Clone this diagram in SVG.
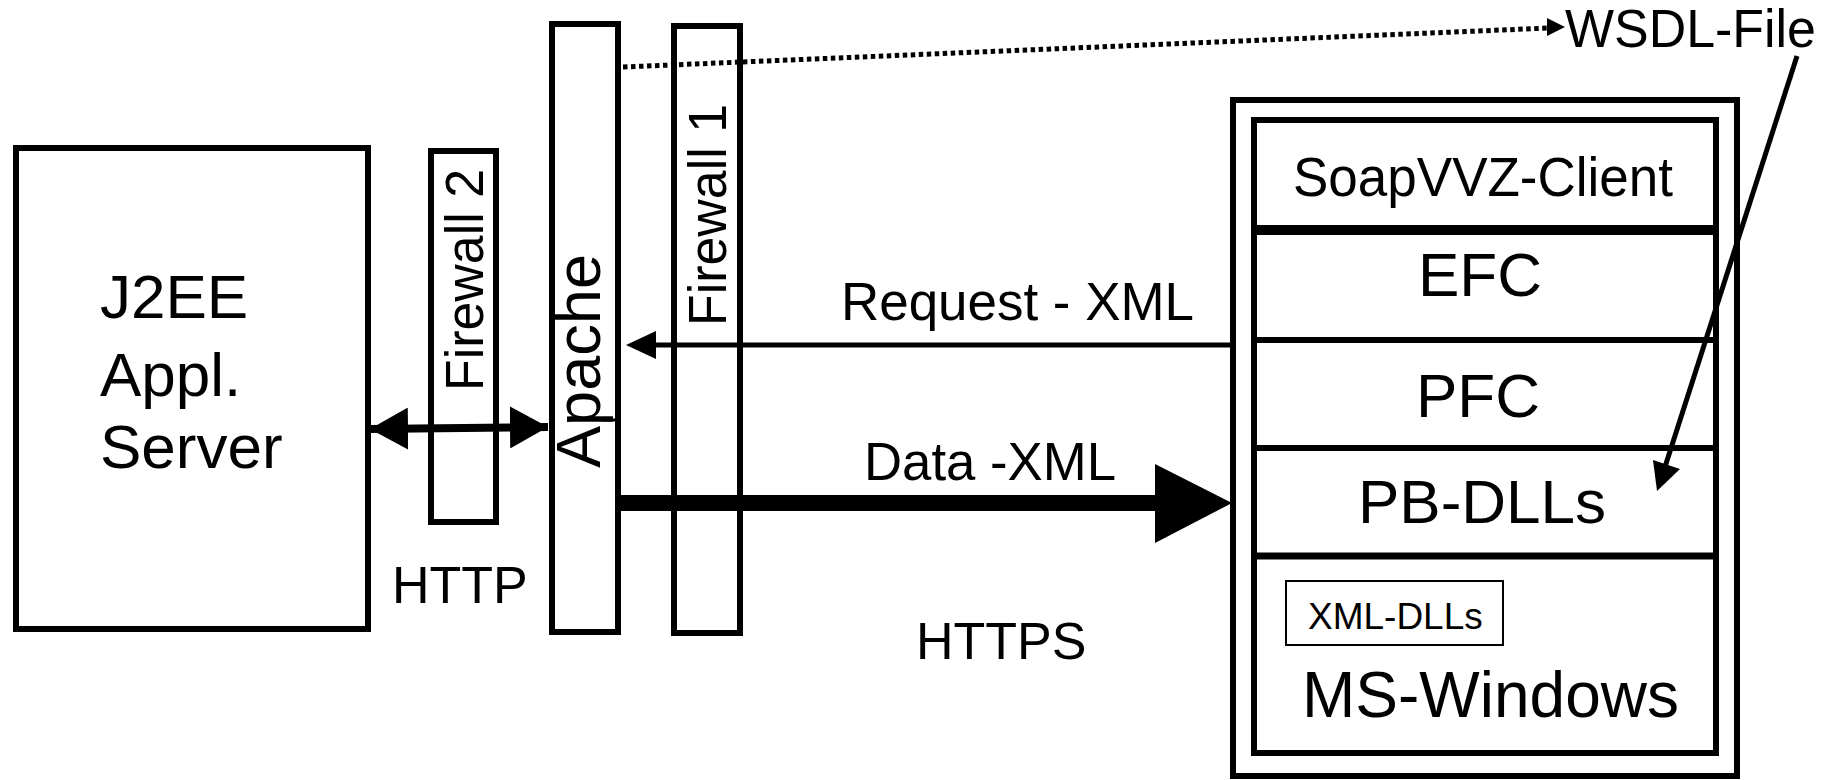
<svg xmlns="http://www.w3.org/2000/svg" width="1836" height="780" viewBox="0 0 1836 780">
<style>
text{font-family:"Liberation Sans",Arial,sans-serif;fill:#000}
.box{fill:none;stroke:#000;stroke-width:6}
.ln{stroke:#000;fill:none}
</style>
<defs>
<marker id="hd" markerUnits="userSpaceOnUse" markerWidth="40" markerHeight="42" viewBox="0 0 40 42" refX="38" refY="21" orient="auto"><path d="M0,0 L38,21 L0,42 Z" fill="#000"/></marker>
<marker id="hdS" markerUnits="userSpaceOnUse" markerWidth="40" markerHeight="42" viewBox="0 0 40 42" refX="38" refY="21" orient="auto-start-reverse"><path d="M0,0 L38,21 L0,42 Z" fill="#000"/></marker>
</defs>
<rect width="1836" height="780" fill="#fff"/>
<g id="j2ee">
<rect class="box" x="16" y="148" width="352" height="481"/>
<text x="100" y="318" font-size="62">J2EE</text>
<text x="100" y="396" font-size="62">Appl.</text>
<text x="100" y="468" font-size="62">Server</text>
</g>
<g id="firewall2">
<rect class="box" x="431" y="151" width="65" height="371"/>
<text transform="translate(483,391) rotate(-90)" font-size="54" textLength="222" lengthAdjust="spacingAndGlyphs">Firewall 2</text>
</g>
<g id="apache">
<rect class="box" x="552" y="24" width="66" height="608"/>
<line class="ln" x1="601" y1="420" x2="618" y2="420" stroke-width="3"/>
<text transform="translate(600,468) rotate(-90)" font-size="63" textLength="214" lengthAdjust="spacingAndGlyphs">Apache</text>
</g>
<g id="firewall1">
<rect class="box" x="674" y="26" width="66" height="607"/>
<text transform="translate(726,326) rotate(-90)" font-size="54" textLength="222" lengthAdjust="spacingAndGlyphs">Firewall 1</text>
</g>
<g id="wsdl">
<text x="1565" y="47" font-size="53" textLength="251" lengthAdjust="spacingAndGlyphs">WSDL-File</text>
</g>
<g id="client">
<rect class="box" x="1233" y="100" width="504" height="676"/>
<rect class="box" x="1254" y="120" width="462" height="633"/>
<line class="ln" x1="1254" y1="230" x2="1716" y2="230" stroke-width="10"/>
<line class="ln" x1="1254" y1="340" x2="1716" y2="340" stroke-width="6"/>
<line class="ln" x1="1254" y1="448" x2="1716" y2="448" stroke-width="6"/>
<line class="ln" x1="1254" y1="556" x2="1716" y2="556" stroke-width="7"/>
<text x="1293" y="196" font-size="56" textLength="380" lengthAdjust="spacingAndGlyphs">SoapVVZ-Client</text>
<text x="1480" y="296" font-size="62" text-anchor="middle">EFC</text>
<text x="1478" y="417" font-size="62" text-anchor="middle">PFC</text>
<text x="1482" y="523" font-size="62" text-anchor="middle">PB-DLLs</text>
<rect x="1286" y="581" width="217" height="64" fill="none" stroke="#000" stroke-width="2"/>
<text x="1308" y="629" font-size="37">XML-DLLs</text>
<text x="1302" y="717" font-size="64">MS-Windows</text>
</g>
<g id="connectors">
<line class="ln" x1="370" y1="429" x2="548" y2="427" stroke-width="8" marker-start="url(#hdS)" marker-end="url(#hd)"/>
<line class="ln" x1="623" y1="67" x2="1549" y2="28" stroke-width="5" stroke-dasharray="4.5 3.5"/>
<path d="M1547,18 L1565,27 L1547,36 Z" fill="#000"/>
<line class="ln" x1="1230" y1="345" x2="650" y2="345" stroke-width="5"/>
<path d="M656,331 L626,345 L656,359 Z" fill="#000"/>
<line class="ln" x1="618" y1="503" x2="1160" y2="503" stroke-width="16"/>
<path d="M1155,464 L1232,503 L1155,543 Z" fill="#000"/>
<line class="ln" x1="1797" y1="56" x2="1664" y2="470" stroke-width="5"/>
<path d="M1653,460 L1657,491 L1680,469 Z" fill="#000"/>
<text x="392" y="603" font-size="52">HTTP</text>
<text x="916" y="659" font-size="52">HTTPS</text>
<text x="841" y="320" font-size="54" textLength="353" lengthAdjust="spacingAndGlyphs">Request - XML</text>
<text x="864" y="480" font-size="54" textLength="252" lengthAdjust="spacingAndGlyphs">Data -XML</text>
</g>
</svg>
